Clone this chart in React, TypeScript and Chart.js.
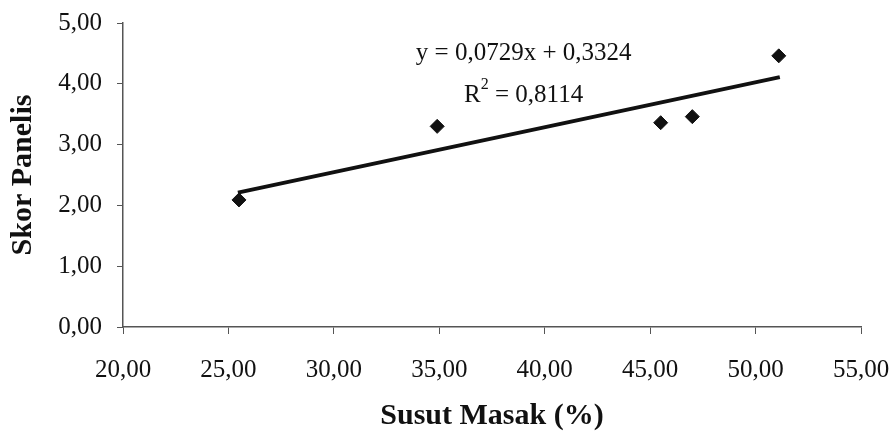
import React, { useEffect, useRef } from "react";
import { Chart, registerables } from "chart.js";

Chart.register(...registerables);

const susutMasak = [25.5, 34.9, 45.5, 47.0, 51.1];
const skorPanelis = [2.09, 3.3, 3.36, 3.46, 4.46];
const trendX = [25.45, 51.15];
const trendY = [2.21, 4.11];
const equationText = "y = 0,0729x + 0,3324";
const r2Text = " = 0,8114";
const xTitle = "Susut Masak (%)";
const yTitle = "Skor Panelis";

const fmt = (v: number) => v.toFixed(2).replace(".", ",");

const FONT = "'Liberation Serif', 'Times New Roman', serif";

const labelPlugin = {
  id: "eqLabel",
  afterDatasetsDraw(chart: any) {
    const { ctx, scales } = chart;
    const xs = scales.x;
    const ys = scales.y;
    ctx.save();
    ctx.fillStyle = "#111";
    ctx.font = `25px ${FONT}`;
    ctx.textBaseline = "middle";
    ctx.textAlign = "center";
    const cx = xs.getPixelForValue(39.0);
    ctx.fillText(equationText, cx, ys.getPixelForValue(4.5));
    const y2 = ys.getPixelForValue(3.81);
    const wR = ctx.measureText("R").width;
    ctx.font = `16px ${FONT}`;
    const w2 = ctx.measureText("2").width;
    ctx.font = `25px ${FONT}`;
    const wRest = ctx.measureText(r2Text).width;
    const total = wR + w2 + wRest;
    const x0 = cx - total / 2;
    ctx.textAlign = "left";
    ctx.fillText("R", x0, y2);
    ctx.font = `16px ${FONT}`;
    ctx.fillText("2", x0 + wR, y2 - 11);
    ctx.font = `25px ${FONT}`;
    ctx.fillText(r2Text, x0 + wR + w2, y2);
    ctx.restore();
  },
};

export default function App() {
  const ref = useRef<HTMLCanvasElement>(null);
  useEffect(() => {
    const canvas = ref.current;
    if (!canvas) return;
    const chart = new Chart(canvas, {
      type: "scatter",
      data: {
        datasets: [
          {
            type: "line",
            data: trendX.map((x, i) => ({ x, y: trendY[i] })),
            borderColor: "#111",
            borderWidth: 4,
            pointRadius: 0,
            fill: false,
          } as any,
          {
            data: susutMasak.map((x, i) => ({ x, y: skorPanelis[i] })),
            pointStyle: "rectRot",
            pointRadius: 7,
            backgroundColor: "#111",
            borderColor: "#111",
            borderWidth: 1,
          },
        ],
      },
      options: {
        responsive: false,
        animation: false,
        layout: { padding: { left: 0, top: 23, right: 33, bottom: 0 } },
        plugins: { legend: { display: false }, tooltip: { enabled: false } },
        scales: {
          x: {
            type: "linear",
            min: 20,
            max: 55,
            afterFit: (s: any) => {
              s.height = 107;
              s.paddingLeft = 0;
              s.paddingRight = 0;
            },
            ticks: {
              stepSize: 5,
              callback: (v: any) => fmt(Number(v)),
              color: "#111",
              font: { family: FONT, size: 25 },
              padding: 21,
              maxRotation: 0,
            },
            grid: {
              drawOnChartArea: false,
              drawTicks: true,
              tickLength: 7,
              color: "#555",
            },
            border: { display: true, color: "#555", width: 1.5 },
            title: {
              display: true,
              text: xTitle,
              color: "#111",
              font: { family: FONT, size: 30, weight: "bold" },
              padding: { top: 0, bottom: 0 },
            },
          },
          y: {
            type: "linear",
            min: 0,
            max: 5,
            afterFit: (s: any) => {
              s.width = 123;
              s.paddingTop = 0;
              s.paddingBottom = 0;
            },
            ticks: {
              stepSize: 1,
              callback: (v: any) => fmt(Number(v)),
              color: "#111",
              font: { family: FONT, size: 25 },
              padding: 15,
            },
            grid: {
              drawOnChartArea: false,
              drawTicks: true,
              tickLength: 6,
              color: "#555",
            },
            border: { display: true, color: "#555", width: 1.5 },
            title: {
              display: true,
              text: yTitle,
              color: "#111",
              font: { family: FONT, size: 30, weight: "bold" },
              padding: { top: 5, bottom: 0 },
            },
          },
        },
      },
      plugins: [labelPlugin],
    });
    return () => chart.destroy();
  }, []);
  return (
    <div style={{ position: "fixed", left: 0, top: 0, width: 894, height: 434, background: "#fff" }}>
      <canvas ref={ref} width={894} height={434} />
    </div>
  );
}
